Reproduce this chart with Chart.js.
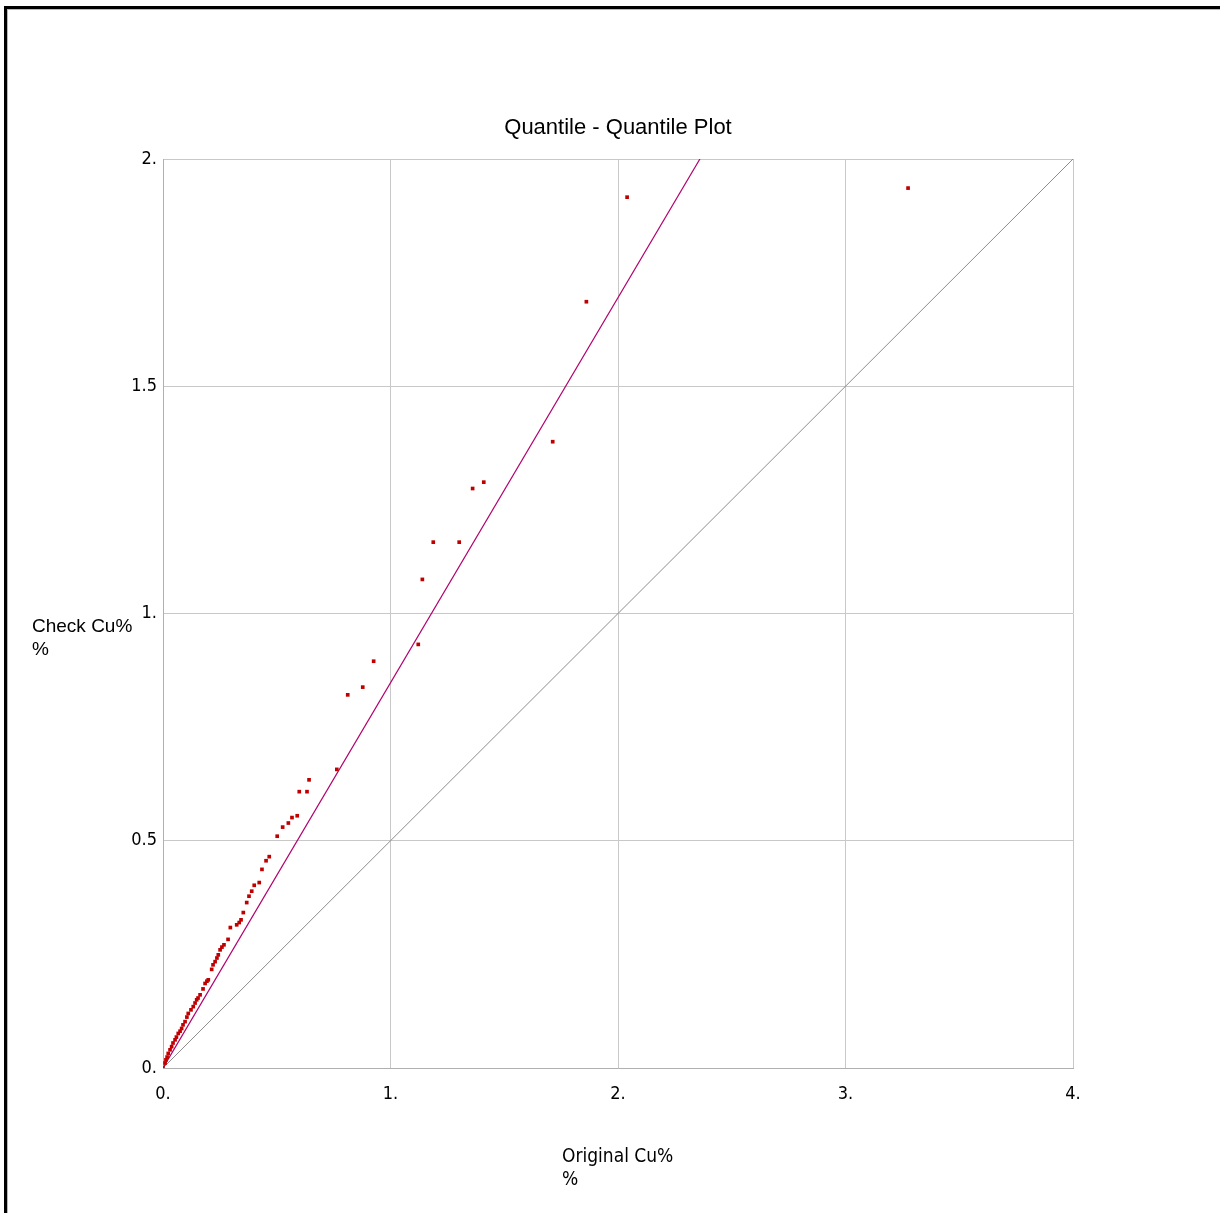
<!DOCTYPE html>
<html>
<head>
<meta charset="utf-8">
<title>Quantile - Quantile Plot</title>
<script src="https://cdn.jsdelivr.net/npm/chart.js@4/dist/chart.umd.min.js"></script>
<style>
  html, body { margin: 0; padding: 0; background: #fff; overflow: hidden; }
  #wrap { position: relative; width: 1220px; height: 1213px; }
  #qq { position: absolute; left: 0; top: 0; }
  .frame { position: absolute; left: 4px; top: 6px; width: 1216px; height: 1207px;
           border-top: 3px solid #000; border-left: 3px solid #000; pointer-events: none; }
  .frame2 { position: absolute; left: 7px; top: 9px; width: 1213px; height: 1204px;
            border-top: 1px solid #b8b8b8; border-left: 1px solid #b8b8b8; pointer-events: none; }
</style>
</head>
<body>
<div id="wrap">
  <canvas id="qq" width="1220" height="1213"></canvas>
  <div class="frame"></div>
  <div class="frame2"></div>
</div>
<script>
// quantiles (sorted)
var originalCu = [0.00, 0.009, 0.013, 0.018, 0.023, 0.031, 0.038, 0.044, 0.053, 0.059,
  0.067, 0.075, 0.082, 0.088, 0.097, 0.105, 0.111, 0.123, 0.133, 0.141,
  0.148, 0.154, 0.163, 0.176, 0.185, 0.193, 0.199, 0.214, 0.220, 0.229,
  0.237, 0.243, 0.251, 0.259, 0.268, 0.286, 0.296, 0.324, 0.335, 0.343,
  0.353, 0.368, 0.378, 0.390, 0.401, 0.423, 0.435, 0.453, 0.467, 0.502,
  0.526, 0.551, 0.567, 0.590, 0.599, 0.633, 0.642, 0.764, 0.812, 0.878,
  0.926, 1.122, 1.140, 1.188, 1.302, 1.361, 1.410, 1.713, 1.861, 2.040, 3.275];
var checkCu = [0.00, 0.011, 0.018, 0.024, 0.032, 0.040, 0.047, 0.055, 0.062, 0.068,
  0.076, 0.081, 0.087, 0.095, 0.102, 0.112, 0.120, 0.128, 0.135, 0.143,
  0.150, 0.154, 0.161, 0.174, 0.186, 0.191, 0.194, 0.217, 0.227, 0.234,
  0.242, 0.249, 0.260, 0.266, 0.271, 0.283, 0.309, 0.315, 0.320, 0.326,
  0.342, 0.364, 0.378, 0.389, 0.402, 0.408, 0.437, 0.456, 0.465, 0.510,
  0.530, 0.539, 0.551, 0.555, 0.608, 0.608, 0.634, 0.657, 0.821, 0.838,
  0.895, 0.932, 1.075, 1.157, 1.157, 1.275, 1.289, 1.378, 1.686, 1.916, 1.936];

// fitted line and reference line end points
var fitX = [0, 2.36];
var fitY = [0, 2];
var refX = [0, 4];
var refY = [0, 2];

var xTicks = [0, 1, 2, 3, 4];
var yTicks = [0, 0.5, 1, 1.5, 2];

function pts(xs, ys) {
  var out = [];
  for (var i = 0; i < xs.length; i++) out.push({x: xs[i], y: ys[i]});
  return out;
}

function tickText(v) {
  return Number.isInteger(v) ? v + '.' : String(v);
}

var narrow = "'Liberation Sans Narrow', 'DejaVu Sans Condensed', sans-serif";

// titles placed like the original window
var textPlugin = {
  id: 'texts',
  afterDraw: function(chart) {
    var c = chart.ctx;
    c.save();
    c.fillStyle = '#000';
    c.textBaseline = 'middle';
    c.font = "22px 'Liberation Sans', Arial, sans-serif";
    c.textAlign = 'center';
    c.fillText('Quantile - Quantile Plot', 618, 128);
    c.textAlign = 'left';
    c.font = "19px 'Liberation Sans', Arial, sans-serif";
    c.fillText('Check Cu%', 32, 627);
    c.fillText('%', 32, 650);
    c.font = "19px " + narrow;
    c.fillText('Original Cu%', 562, 1157);
    c.fillText('%', 562, 1180);
    c.restore();
  }
};

var ctx = document.getElementById('qq');

var qqChart = new Chart(ctx, {
  type: 'scatter',
  data: {
    datasets: [
      {
        label: 'Reference',
        data: pts(refX, refY),
        showLine: true,
        borderColor: '#8c8c8c',
        borderWidth: 1,
        pointRadius: 0,
        order: 3
      },
      {
        label: 'Fit',
        data: pts(fitX, fitY),
        showLine: true,
        borderColor: '#b0006e',
        borderWidth: 1.2,
        pointRadius: 0,
        order: 2
      },
      {
        label: 'Quantiles',
        data: pts(originalCu, checkCu),
        backgroundColor: '#c00000',
        borderColor: '#c00000',
        pointStyle: 'rect',
        pointRadius: 2.6,
        borderWidth: 0,
        order: 1
      }
    ]
  },
  options: {
    responsive: false,
    animation: false,
    layout: { padding: { left: 0, top: 159, right: 147, bottom: 0 } },
    plugins: {
      legend: { display: false },
      tooltip: { enabled: false },
      title: { display: false }
    },
    scales: {
      x: {
        type: 'linear',
        min: 0, max: 4,
        afterFit: function(s) { s.height = 145; },
        afterBuildTicks: function(s) { s.ticks = xTicks.map(function(v) { return {value: v}; }); },
        grid: { color: '#c8c8c8', lineWidth: 1, drawTicks: false },
        border: { color: '#b0b0b0' },
        ticks: {
          padding: 16,
          color: '#000',
          font: { family: narrow, size: 18 },
          callback: function(v) { return tickText(v); }
        }
      },
      y: {
        type: 'linear',
        min: 0, max: 2,
        afterFit: function(s) { s.width = 163; },
        afterBuildTicks: function(s) { s.ticks = yTicks.map(function(v) { return {value: v}; }); },
        grid: { color: '#c8c8c8', lineWidth: 1, drawTicks: false },
        border: { color: '#b0b0b0' },
        ticks: {
          padding: 6,
          color: '#000',
          font: { family: narrow, size: 18 },
          callback: function(v) { return tickText(v); }
        }
      }
    }
  },
  plugins: [textPlugin]
});
</script>
</body>
</html>
